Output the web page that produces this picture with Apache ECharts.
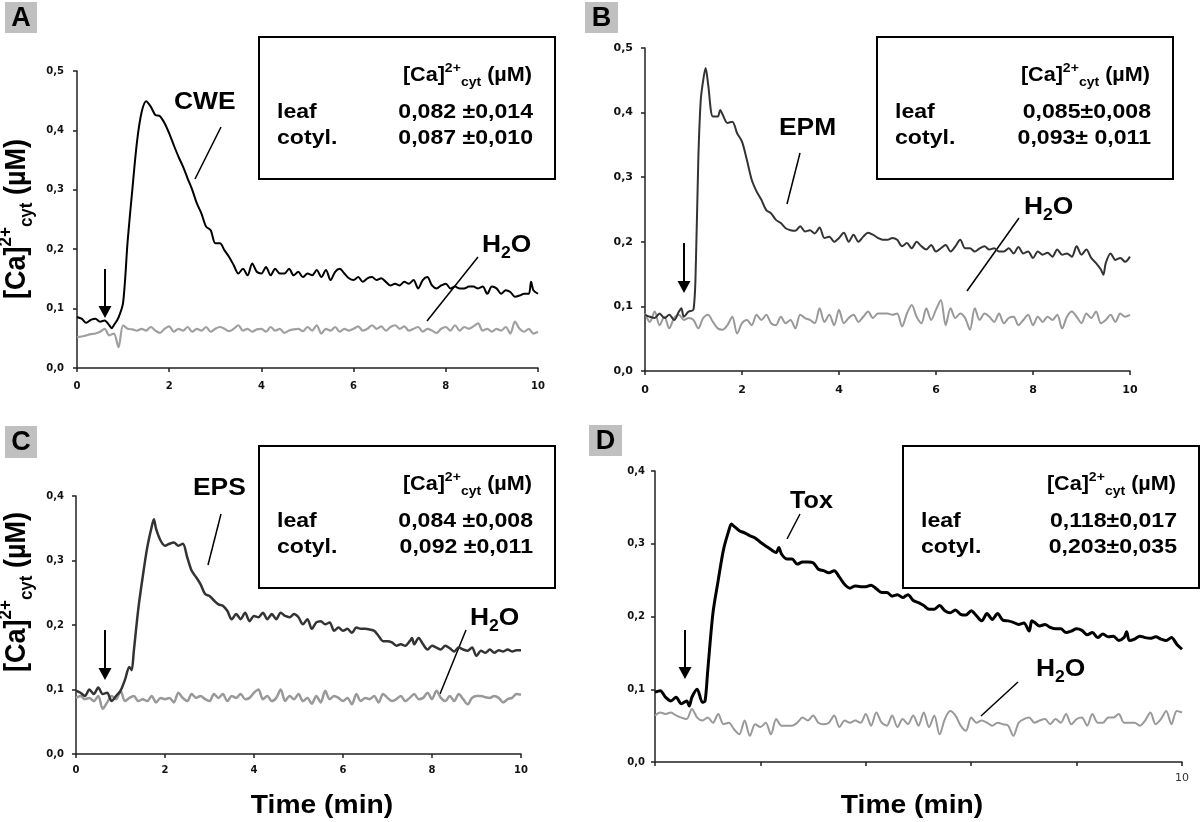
<!DOCTYPE html>
<html><head><meta charset="utf-8">
<script src="https://cdn.jsdelivr.net/npm/echarts@6/dist/echarts.min.js"></script>
<style>html,body{margin:0;padding:0;background:#fff}#c{width:1200px;height:822px}</style>
</head><body><div id="c"></div><script>
// ---------------- DATA ----------------
const time = [0,0.1,0.2,0.3,0.4,0.5,0.6,0.7,0.8,0.9,1,1.1,1.2,1.3,1.4,1.5,1.6,1.7,1.8,1.9,2,2.1,2.2,2.3,2.4,2.5,2.6,2.7,2.8,2.9,3,3.1,3.2,3.3,3.4,3.5,3.6,3.7,3.8,3.9,4,4.1,4.2,4.3,4.4,4.5,4.6,4.7,4.8,4.9,5,5.1,5.2,5.3,5.4,5.5,5.6,5.7,5.8,5.9,6,6.1,6.2,6.3,6.4,6.5,6.6,6.7,6.8,6.9,7,7.1,7.2,7.3,7.4,7.5,7.6,7.7,7.8,7.9,8,8.1,8.2,8.3,8.4,8.5,8.6,8.7,8.8,8.9,9,9.1,9.2,9.3,9.4,9.5,9.6,9.7,9.8,9.9,10];

// Panel A
const timeCWE = [0,0.1,0.2,0.3,0.4,0.5,0.6,0.7,0.75,0.8,0.9,1,1.1,1.2,1.3,1.4,1.5,1.6,1.7,1.8,1.9,2,2.1,2.2,2.3,2.4,2.5,2.6,2.7,2.8,2.9,3,3.1,3.2,3.3,3.4,3.5,3.6,3.7,3.8,3.9,4,4.1,4.2,4.3,4.4,4.5,4.6,4.7,4.8,4.9,5,5.1,5.2,5.3,5.4,5.5,5.6,5.7,5.8,5.9,6,6.1,6.2,6.3,6.4,6.5,6.6,6.7,6.8,6.9,7,7.1,7.2,7.3,7.4,7.5,7.6,7.7,7.8,7.9,8,8.1,8.2,8.3,8.4,8.5,8.6,8.7,8.8,8.9,9,9.1,9.2,9.3,9.4,9.5,9.6,9.7,9.8,9.85,9.9,10];
const cwe = [0.086,0.083,0.076,0.081,0.083,0.078,0.080,0.072,0.067,0.072,0.085,
0.11,0.215,0.30,0.38,0.43,0.449,0.44,0.426,0.424,0.412,
0.395,0.375,0.356,0.339,0.319,0.30,0.277,0.26,0.238,0.232,
0.21,0.21,0.198,0.187,0.173,0.159,0.167,0.156,0.176,0.162,
0.159,0.17,0.156,0.167,0.159,0.159,0.167,0.156,0.162,0.153,
0.159,0.156,0.165,0.153,0.165,0.148,0.162,0.167,0.159,0.151,
0.148,0.153,0.145,0.151,0.153,0.148,0.151,0.145,0.139,0.142,
0.139,0.145,0.142,0.148,0.134,0.148,0.153,0.139,0.134,0.139,
0.142,0.134,0.137,0.134,0.134,0.137,0.137,0.134,0.137,0.125,
0.137,0.134,0.125,0.131,0.128,0.12,0.122,0.125,0.125,0.145,0.131,
0.125];
const h2oA = [0.052,0.053,0.055,0.057,0.058,0.061,0.066,0.055,0.058,0.035,
0.072,0.066,0.065,0.063,0.066,0.063,0.069,0.063,0.059,0.066,
0.070,0.061,0.066,0.063,0.069,0.061,0.066,0.063,0.069,0.061,
0.066,0.069,0.066,0.062,0.066,0.072,0.063,0.066,0.061,0.065,
0.066,0.061,0.069,0.063,0.066,0.059,0.063,0.065,0.066,0.062,
0.069,0.063,0.072,0.058,0.066,0.063,0.069,0.061,0.066,0.063,
0.066,0.070,0.063,0.066,0.072,0.066,0.070,0.063,0.069,0.072,
0.066,0.070,0.063,0.066,0.069,0.061,0.066,0.063,0.059,0.066,
0.069,0.063,0.072,0.063,0.069,0.066,0.070,0.075,0.063,0.066,
0.061,0.066,0.063,0.069,0.058,0.078,0.066,0.061,0.066,0.058,
0.061];

// Panel B
const timeEPM = [0,0.1,0.2,0.3,0.4,0.5,0.6,0.7,0.75,0.8,0.9,1,1.05,1.1,1.15,1.2,1.25,1.3,1.4,1.5,1.55,1.6,1.7,1.8,1.9,2,2.1,2.2,2.3,2.4,2.5,2.6,2.7,2.8,2.9,3,3.1,3.2,3.3,3.4,3.5,3.6,3.7,3.8,3.9,4,4.1,4.2,4.3,4.4,4.5,4.6,4.7,4.8,4.9,5,5.1,5.2,5.3,5.4,5.5,5.6,5.7,5.8,5.9,6,6.1,6.2,6.3,6.4,6.5,6.6,6.7,6.8,6.9,7,7.1,7.2,7.3,7.4,7.5,7.6,7.7,7.8,7.9,8,8.1,8.2,8.3,8.4,8.5,8.6,8.7,8.8,8.9,9,9.1,9.2,9.3,9.4,9.45,9.5,9.6,9.7,9.8,9.9,10];
const epm = [.087,.084,.082,.089,.082,.087,.079,.092,.097,.084,.092,
.095,.17,.33,.42,.45,.469,.445,.394,.394,.404,.397,.384,.386,.368,
.355,.327,.296,.278,.265,.249,.244,.234,.229,.221,
.218,.217,.224,.216,.218,.213,.222,.206,.208,.2,
.206,.214,.2,.211,.2,.208,.214,.211,.206,.203,
.203,.206,.203,.193,.198,.19,.2,.193,.188,.195,
.185,.19,.195,.185,.193,.203,.19,.19,.185,.19,
.193,.188,.19,.185,.185,.19,.182,.192,.182,.185,
.175,.185,.18,.183,.177,.188,.18,.182,.177,.193,
.18,.188,.175,.167,.157,.149,.167,.182,.172,.175,.169,
.177];
const h2oB = [.089,.076,.092,.071,.084,.066,.082,.087,.079,.082,
.079,.066,.082,.087,.076,.066,.064,.071,.084,.058,
.074,.079,.071,.087,.079,.087,.074,.071,.084,.074,
.079,.066,.087,.082,.079,.074,.097,.076,.087,.071,
.095,.074,.082,.087,.076,.084,.092,.082,.089,.089,
.089,.087,.089,.069,.089,.102,.084,.074,.097,.079,
.095,.110,.071,.097,.082,.089,.082,.064,.097,.079,
.089,.084,.076,.089,.074,.082,.084,.071,.079,.087,
.071,.084,.076,.084,.079,.087,.066,.084,.092,.084,
.074,.089,.082,.092,.074,.079,.087,.076,.089,.084,
.087];

// Panel C
const timeEPS = [0,0.1,0.2,0.3,0.4,0.5,0.6,0.7,0.8,0.9,1,1.1,1.2,1.25,1.3,1.4,1.5,1.6,1.7,1.75,1.8,1.9,2,2.1,2.2,2.3,2.4,2.5,2.6,2.7,2.8,2.9,3,3.1,3.2,3.3,3.4,3.5,3.6,3.7,3.8,3.9,4,4.1,4.2,4.3,4.4,4.5,4.6,4.7,4.8,4.9,5,5.1,5.2,5.3,5.4,5.5,5.6,5.7,5.8,5.9,6,6.1,6.2,6.3,6.4,6.5,6.6,6.7,6.8,6.9,7,7.1,7.2,7.3,7.4,7.5,7.55,7.6,7.7,7.8,7.9,8,8.1,8.2,8.3,8.4,8.5,8.6,8.7,8.8,8.9,9,9.1,9.2,9.3,9.4,9.5,9.6,9.7,9.8,9.9,10];
const eps = [.098,.095,.09,.1,.093,.103,.093,.095,.082,.09,
.098,.115,.135,.13,.16,.225,.275,.32,.352,.364,.349,.331,
.323,.326,.328,.323,.326,.305,.284,.274,.263,.248,
.245,.238,.232,.23,.222,.209,.217,.209,.219,.206,
.214,.212,.219,.209,.217,.209,.219,.214,.212,.217,
.212,.201,.209,.194,.204,.206,.201,.204,.191,.196,
.191,.194,.188,.196,.194,.194,.193,.191,.183,.175,
.175,.173,.168,.17,.168,.175,.18,.17,.18,.17,.162,
.168,.165,.162,.168,.164,.159,.165,.162,.16,.165,
.152,.16,.157,.162,.157,.161,.159,.162,.159,.161,
.161];
const h2oC = [.087,.09,.085,.087,.082,.09,.07,.08,.09,.085,
.098,.082,.087,.09,.082,.085,.082,.09,.08,.087,
.085,.087,.08,.095,.087,.082,.093,.087,.09,.085,
.082,.093,.087,.093,.082,.09,.087,.093,.085,.087,
.095,.1,.085,.09,.082,.087,.1,.082,.09,.085,
.093,.082,.087,.078,.09,.08,.098,.085,.09,.087,
.082,.087,.077,.093,.082,.087,.085,.09,.08,.093,
.087,.082,.085,.09,.082,.087,.093,.085,.087,.095,
.085,.098,.087,.082,.09,.082,.093,.085,.077,.087,
.09,.09,.088,.087,.09,.087,.08,.085,.087,.093,
.092];

// Panel D
const timeTox = [0,0.1,0.2,0.3,0.4,0.5,0.6,0.65,0.7,0.8,0.9,0.95,1,1.1,1.2,1.3,1.4,1.45,1.5,1.6,1.7,1.8,1.9,2,2.1,2.2,2.3,2.35,2.4,2.5,2.6,2.7,2.8,2.9,3,3.1,3.2,3.3,3.4,3.5,3.6,3.7,3.8,3.9,4,4.1,4.2,4.3,4.4,4.5,4.6,4.7,4.8,4.9,5,5.1,5.2,5.3,5.4,5.5,5.6,5.7,5.8,5.9,6,6.1,6.2,6.3,6.4,6.5,6.6,6.7,6.8,6.9,7,7.1,7.15,7.2,7.3,7.4,7.5,7.6,7.7,7.8,7.9,8,8.1,8.2,8.3,8.4,8.5,8.6,8.7,8.8,8.9,8.95,9,9.1,9.2,9.3,9.4,9.5,9.6,9.7,9.8,9.9,10];
const tox = [.096,.098,.089,.084,.089,.08,.084,.077,.089,.1,.082,.084,
.125,.205,.25,.292,.318,.327,.324,.318,.315,.311,.308,
.302,.297,.292,.288,.295,.286,.279,.279,.272,.275,.275,
.274,.265,.263,.26,.263,.254,.244,.239,.242,.241,
.241,.243,.238,.233,.233,.228,.23,.226,.23,.222,
.219,.215,.21,.21,.215,.208,.205,.209,.203,.202,
.208,.201,.194,.204,.196,.204,.195,.194,.192,.189,
.191,.18,.194,.192,.187,.189,.185,.183,.183,.178,.18,
.183,.181,.175,.178,.171,.176,.172,.173,.167,.171,.179,
.167,.169,.173,.171,.17,.172,.169,.167,.171,.162,
.155];
const h2oD = [.064,.068,.066,.068,.064,.061,.059,.073,.061,.057,
.061,.054,.066,.052,.054,.045,.038,.057,.036,.052,
.048,.054,.038,.059,.05,.05,.05,.054,.061,.057,
.064,.054,.052,.054,.064,.048,.057,.054,.057,.054,
.066,.05,.068,.054,.05,.064,.048,.059,.052,.064,
.05,.068,.048,.064,.038,.059,.07,.064,.05,.043,
.061,.054,.057,.054,.05,.054,.052,.05,.036,.054,
.059,.061,.054,.057,.059,.052,.059,.054,.066,.052,
.059,.061,.05,.066,.054,.054,.061,.061,.066,.054,
.054,.054,.05,.057,.068,.052,.059,.07,.052,.07,
.068];

const panelLetters = ['A','B','C','D'];
const treatments = ['CWE','EPM','EPS','Tox'];
const leafVals = ['0,082 \u00B10,014','0,085\u00B10,008','0,084 \u00B10,008','0,118\u00B10,017'];
const cotylVals = ['0,087 \u00B10,010','0,093\u00B1 0,011','0,092 \u00B10,011','0,203\u00B10,035'];
const yMax = [0.5, 0.5, 0.4, 0.4];

// ---------------- HELPERS ----------------
const FONT = '"Liberation Sans", Arial, sans-serif';
const mctx = document.createElement('canvas').getContext('2d');
function tw(t, s){ mctx.font = 'bold ' + s + 'px ' + FONT; return mctx.measureText(t).width; }
function txt(t, x, y, s, align, extra){
  return Object.assign({type:'text', x:x, y:y, style:{text:t, font:'bold '+s+'px '+FONT, fill:'#000',
    align:align||'left', verticalAlign:'middle', textAlign:align||'left', textVerticalAlign:'middle'}}, extra||{});
}
function pieces(list, align){
  const w = list.reduce((a,p)=>a+tw(p.t,p.s),0);
  let x = align==='right' ? -w : (align==='center' ? -w/2 : 0);
  return list.map(p=>{ const el = txt(p.t, x, p.dy||0, p.s, 'left'); x += tw(p.t,p.s); return el; });
}
function group(x, y, children, extra){ return Object.assign({type:'group', x:x, y:y, children:children}, extra||{}); }
function seg(x1,y1,x2,y2,w){ return {type:'line', shape:{x1,y1,x2,y2}, style:{stroke:'#000', lineWidth:w||1.5}}; }
function arrow(x, top, tip){
  return [seg(x, top, x, tip-10, 2),
    {type:'polygon', shape:{points:[[x-6.5,tip-12],[x+6.5,tip-12],[x,tip]]}, style:{fill:'#000'}}];
}
function h2o(x, y){
  return group(x, y, pieces([{t:'H',s:24},{t:'2',s:16,dy:9},{t:'O',s:24}],'left'), {scaleX:1.1});
}
function infoBox(L, T, v1, v2){
  return [
    {type:'rect', shape:{x:L, y:T, width:296, height:142}, style:{fill:'#fff', stroke:'#000', lineWidth:2}},
    group(L+273, T+38, pieces([{t:'[Ca]',s:20},{t:'2+',s:13,dy:-7},{t:'cyt',s:13,dy:7},{t:' (\u00B5M)',s:20}],'right'), {scaleX:1.08}),
    group(L+18, T+75, [txt('leaf',0,0,21,'left')], {scaleX:1.1}),
    group(L+18, T+101, [txt('cotyl.',0,0,21,'left')], {scaleX:1.1}),
    group(L+274, T+75, [txt(v1,0,0,21,'right')], {scaleX:1.1}),
    group(L+274, T+101, [txt(v2,0,0,21,'right')], {scaleX:1.1})
  ];
}
function letter(x, y, w, h, t){
  return [{type:'rect', shape:{x, y, width:w, height:h}, style:{fill:'#c0c0c0'}},
          txt(t, x+w/2, y+h/2+1, 27, 'center')];
}
function yName(cx, cy){
  return group(cx, cy, pieces([{t:'[Ca]',s:27},{t:'2+',s:17,dy:-10},{t:'cyt',s:17,dy:9},{t:' (\u00B5M)',s:27}],'center'),
    {rotation:Math.PI/2, scaleY:1.08});
}

// ---------------- AXES ----------------
const AX = '#222';
function xAxis(gi, lab){
  return {gridIndex:gi, type:'value', min:0, max:10, interval:2,
    axisLine:{show:true, lineStyle:{color:AX, width:1.5}},
    axisTick:{show:true, length:4, inside:false, lineStyle:{color:AX, width:1.5}},
    splitLine:{show:false},
    axisLabel:Object.assign({fontFamily:'DejaVu Sans', fontWeight:'bold', fontSize:10, color:'#111', margin:13}, lab||{})};
}
function yAxis(gi, max, lab){
  return {gridIndex:gi, type:'value', min:0, max:max, interval:0.1,
    axisLine:{show:true, lineStyle:{color:AX, width:1.5}},
    axisTick:{show:true, length:4, inside:false, lineStyle:{color:AX, width:1.5}},
    splitLine:{show:false},
    axisLabel:Object.assign({fontFamily:'DejaVu Sans', fontWeight:'bold', fontSize:10, color:'#111', margin:13,
      formatter:v=>v.toFixed(1).replace('.',',')}, lab||{})};
}
function line(gi, t, v, color, width){
  return {type:'line', xAxisIndex:gi, yAxisIndex:gi, data:t.map((x,i)=>[x, v[i]]),
    showSymbol:false, symbol:'none', smooth:0.3, lineStyle:{color:color, width:width}, itemStyle:{color:color},
    emphasis:{disabled:true}};
}

const grids = [
  {left:77, top:71, width:461, height:297},
  {left:645, top:48, width:485, height:323},
  {left:76, top:496, width:445, height:258},
  {left:655, top:471, width:527, height:291}
];

const graphics = [].concat(
  letter(5, 2, 32, 31, panelLetters[0]),
  letter(585, 2, 33, 31, panelLetters[1]),
  letter(5, 426, 32, 32, panelLetters[2]),
  letter(589, 425, 33, 31, panelLetters[3]),
  infoBox(259, 37, leafVals[0], cotylVals[0]),
  infoBox(877, 37, leafVals[1], cotylVals[1]),
  infoBox(259, 446, leafVals[2], cotylVals[2]),
  infoBox(903, 446, leafVals[3], cotylVals[3]),
  [yName(17, 219), yName(17, 592)],
  [group(322, 806, [txt('Time (min)',0,0,25,'center')], {scaleX:1.13}),
   group(912, 806, [txt('Time (min)',0,0,25,'center')], {scaleX:1.13})],
  [group(174, 102, [txt(treatments[0],0,0,24,'left')], {scaleX:1.1}), seg(221,127,195,179)],
  [h2o(482, 245), seg(478,257,427,321)],
  arrow(105, 269, 318),
  [group(779, 128, [txt(treatments[1],0,0,24,'left')], {scaleX:1.1}), seg(800,153,787,204)],
  [h2o(1024, 207), seg(1019,218,967,291)],
  arrow(684, 243, 293),
  [group(193, 488, [txt(treatments[2],0,0,24,'left')], {scaleX:1.1}), seg(221,514,208,565)],
  [h2o(470, 618), seg(466,630,440,694)],
  arrow(105, 630, 680),
  [group(790, 501, [txt(treatments[3],0,0,24,'left')], {scaleX:1.05}), seg(800,514,787,539)],
  [h2o(1036, 669), seg(1018,682,981,716)],
  arrow(685, 630, 679)
);

const option = {
  animation:false,
  backgroundColor:'#fff',
  grid:grids,
  xAxis:[xAxis(0), xAxis(1, {fontSize:11, margin:14}), xAxis(2, {margin:11}),
         xAxis(3, {fontWeight:'normal', fontSize:11, color:'#333', margin:11, formatter:v=>v===10?'10':''})],
  yAxis:[yAxis(0, yMax[0]), yAxis(1, yMax[1], {fontSize:11, margin:12}), yAxis(2, yMax[2], {margin:12}), yAxis(3, yMax[3], {margin:10})],
  series:[
    line(0, time, h2oA, '#a0a0a0', 2.2), line(0, timeCWE, cwe, '#000', 2),
    line(1, time, h2oB, '#999', 2), line(1, timeEPM, epm, '#333', 2),
    line(2, time, h2oC, '#999', 2.5), line(2, timeEPS, eps, '#333', 2.5),
    line(3, time, h2oD, '#999', 2), line(3, timeTox, tox, '#000', 3)
  ],
  graphic:{elements:graphics}
};
const chart = echarts.init(document.getElementById('c'), null, {renderer:'canvas'});
chart.setOption(option);
</script></body></html>
